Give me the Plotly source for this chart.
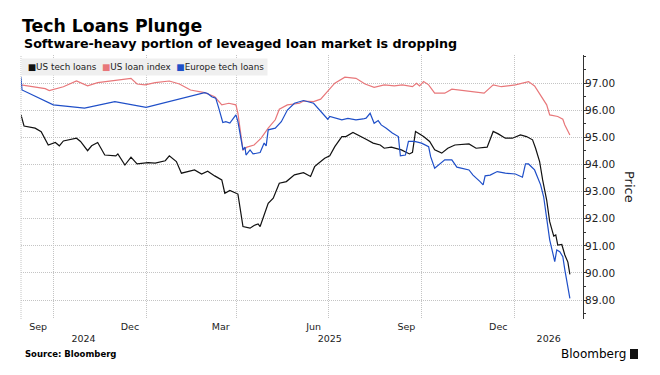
import plotly.graph_objects as go

# ---------------- data ----------------
us_tech_dates = [
    "2024-08-30", "2024-09-02", "2024-09-13", "2024-09-19", "2024-09-26", "2024-10-03",
    "2024-10-07", "2024-10-11", "2024-10-24", "2024-10-28", "2024-11-04", "2024-11-08",
    "2024-11-14", "2024-11-21", "2024-12-02", "2024-12-04", "2024-12-11", "2024-12-17",
    "2024-12-23", "2025-01-03", "2025-01-10", "2025-01-20", "2025-01-24", "2025-01-31",
    "2025-02-05", "2025-02-12", "2025-02-18", "2025-02-25", "2025-03-03", "2025-03-10",
    "2025-03-17", "2025-03-20", "2025-03-25", "2025-04-02", "2025-04-07", "2025-04-14",
    "2025-04-18", "2025-04-22", "2025-04-24", "2025-05-02", "2025-05-07", "2025-05-13",
    "2025-05-20", "2025-05-28", "2025-06-06", "2025-06-13", "2025-06-17", "2025-06-20",
    "2025-06-27", "2025-07-02", "2025-07-07", "2025-07-14", "2025-07-18", "2025-07-25",
    "2025-08-01", "2025-08-07", "2025-08-14", "2025-08-21", "2025-08-25", "2025-09-01",
    "2025-09-11", "2025-09-19", "2025-09-22", "2025-09-25", "2025-10-03", "2025-10-09",
    "2025-10-14", "2025-10-21", "2025-10-27", "2025-11-03", "2025-11-17", "2025-11-24",
    "2025-12-05", "2025-12-11", "2025-12-16", "2025-12-23", "2025-12-30", "2026-01-07",
    "2026-01-13", "2026-01-19", "2026-01-22", "2026-01-26", "2026-01-29", "2026-02-02",
    "2026-02-05", "2026-02-09", "2026-02-11", "2026-02-13", "2026-02-17", "2026-02-20",
    "2026-02-23", "2026-02-25",
]
us_tech = [
    95.83, 95.42, 95.34, 95.21, 94.72, 94.81,
    94.69, 94.87, 94.97, 94.85, 94.51, 94.69,
    94.81, 94.35, 94.32, 94.39, 93.98, 94.27,
    94.02, 94.07, 94.05, 94.14, 94.32, 94.11,
    93.68, 93.74, 93.80, 93.65, 93.75, 93.58,
    93.43, 92.94, 93.04, 92.91, 91.71, 91.65,
    91.75, 91.81, 91.71, 92.57, 92.76, 93.31,
    93.37, 93.62, 93.70, 93.56, 93.92, 94.02,
    94.23, 94.32, 94.66, 95.03, 95.03, 95.18,
    95.03, 94.93, 94.79, 94.72, 94.60, 94.64,
    94.54, 94.39, 94.45, 95.22, 95.03, 94.85,
    94.54, 94.42, 94.60, 94.72, 94.76, 94.60,
    94.64, 95.22, 95.13, 94.97, 94.97, 95.09,
    95.03, 94.91, 94.60, 94.11, 93.43, 92.69,
    91.89, 91.36, 91.40, 91.03, 91.05, 90.66,
    90.40, 89.95,
]

us_index_dates = [
    "2024-08-30", "2024-09-13", "2024-09-23", "2024-09-27", "2024-10-11", "2024-10-24",
    "2024-11-04", "2024-11-14", "2024-12-02", "2024-12-17", "2024-12-23", "2024-12-31",
    "2025-01-10", "2025-01-20", "2025-01-24", "2025-02-03", "2025-02-14", "2025-02-28",
    "2025-03-10", "2025-03-17", "2025-03-24", "2025-03-31", "2025-04-02", "2025-04-04",
    "2025-04-07", "2025-04-11", "2025-04-18", "2025-04-25", "2025-05-02", "2025-05-09",
    "2025-05-13", "2025-05-21", "2025-06-02", "2025-06-06", "2025-06-16", "2025-06-23",
    "2025-06-30", "2025-07-07", "2025-07-17", "2025-07-28", "2025-08-06", "2025-08-15",
    "2025-08-25", "2025-09-04", "2025-09-12", "2025-09-22", "2025-09-26", "2025-09-29",
    "2025-10-03", "2025-10-08", "2025-10-14", "2025-10-24", "2025-10-31", "2025-11-17",
    "2025-12-02", "2025-12-11", "2025-12-19", "2026-01-02", "2026-01-15", "2026-01-21",
    "2026-01-28", "2026-02-02", "2026-02-05", "2026-02-13", "2026-02-18", "2026-02-20",
    "2026-02-25",
]
us_index = [
    96.94, 96.87, 96.80, 96.73, 96.87, 97.08,
    96.90, 97.02, 97.12, 97.18, 96.97, 96.94,
    97.02, 97.06, 97.08, 96.97, 96.75, 96.65,
    96.50, 96.20, 96.26, 96.20, 95.89, 95.34,
    94.54, 94.64, 94.72, 94.97, 95.34, 95.65,
    96.04, 96.20, 96.26, 96.34, 96.32, 96.41,
    96.69, 97.00, 97.22, 97.18, 96.97, 96.85,
    96.94, 96.90, 96.94, 96.87, 97.00, 96.90,
    97.06, 96.94, 96.63, 96.63, 96.78, 96.69,
    96.63, 96.94, 96.87, 96.94, 97.06, 96.90,
    96.50, 96.20, 95.83, 95.77, 95.67, 95.46,
    95.09,
]

eu_tech_dates = [
    "2024-08-30", "2024-08-31", "2024-10-01", "2024-11-01", "2024-12-01", "2025-01-01",
    "2025-02-28", "2025-03-03", "2025-03-07", "2025-03-11", "2025-03-14", "2025-03-18",
    "2025-03-21", "2025-03-25", "2025-03-31", "2025-04-02", "2025-04-07", "2025-04-09",
    "2025-04-10", "2025-04-14", "2025-04-17", "2025-04-24", "2025-04-28", "2025-04-30",
    "2025-05-02", "2025-05-09", "2025-05-15", "2025-05-21", "2025-05-28", "2025-06-06",
    "2025-06-16", "2025-06-23", "2025-06-30", "2025-07-02", "2025-07-14", "2025-07-20",
    "2025-07-28", "2025-08-04", "2025-08-07", "2025-08-11", "2025-08-15", "2025-08-19",
    "2025-08-22", "2025-08-27", "2025-09-02", "2025-09-08", "2025-09-10", "2025-09-15",
    "2025-09-18", "2025-09-24", "2025-10-01", "2025-10-08", "2025-10-10", "2025-10-14",
    "2025-10-20", "2025-10-24", "2025-10-31", "2025-11-05", "2025-11-17", "2025-11-21",
    "2025-11-28", "2025-12-01", "2025-12-03", "2025-12-08", "2025-12-15", "2025-12-23",
    "2026-01-02", "2026-01-09", "2026-01-12", "2026-01-15", "2026-01-21", "2026-01-27",
    "2026-01-30", "2026-02-02", "2026-02-05", "2026-02-10", "2026-02-12", "2026-02-15",
    "2026-02-18", "2026-02-20", "2026-02-25",
]
eu_tech = [
    97.22, 96.75, 96.20, 96.08, 96.32, 96.11,
    96.65, 96.62, 96.50, 96.45, 96.08, 95.55,
    95.58, 95.53, 95.83, 95.58, 94.54, 94.64,
    94.35, 94.54, 94.39, 94.44, 94.79, 94.69,
    95.28, 95.34, 95.58, 96.01, 96.26, 96.36,
    96.26, 95.95, 95.67, 95.77, 95.65, 95.70,
    95.65, 95.68, 95.71, 95.89, 95.52, 95.62,
    95.46, 95.34, 95.16, 95.03, 94.32, 94.35,
    94.85, 94.85, 94.79, 94.66, 94.29, 93.86,
    94.05, 94.17, 94.17, 93.90, 93.80, 93.61,
    93.37, 93.25, 93.58, 93.61, 93.74, 93.68,
    93.65, 93.53, 94.02, 94.02, 93.80, 93.25,
    92.81, 91.95, 91.22, 90.42, 90.85, 90.78,
    90.60, 90.11, 89.06,
]

series_names = ["US tech loans", "US loan index", "Europe tech loans"]
series_colors = ["#111111", "#e8777a", "#1f4fc8"]

# axis ticks
month_tick_dates = ["2024-09-16", "2024-12-16", "2025-03-16", "2025-06-16", "2025-09-16", "2025-12-16"]
month_tick_labels = ["Sep", "Dec", "Mar", "Jun", "Sep", "Dec"]
year_tick_dates = ["2024-10-31", "2025-07-02", "2026-02-04"]
year_tick_labels = ["2024", "2025", "2026"]
grid_dates = ["2024-10-01", "2025-01-01", "2025-04-01", "2025-07-01", "2025-10-01", "2026-01-01"]
y_tick_vals = [89, 90, 91, 92, 93, 94, 95, 96, 97]

FONT = "DejaVu Sans"

# The page body has an 8px margin, so the figure is laid out 8px up/left.
W, H = 652, 367
PL, PR, PT, PB = 13, 575, 47, 311          # plot area in figure pixels
PW, PH = PR - PL, PB - PT


def px(xf):
    return (xf - PL) / PW


def py(yf):
    return (PB - yf) / PH


fig = go.Figure()
for xs, ys, name, color in [
    (us_tech_dates, us_tech, series_names[0], series_colors[0]),
    (us_index_dates, us_index, series_names[1], series_colors[1]),
    (eu_tech_dates, eu_tech, series_names[2], series_colors[2]),
]:
    fig.add_trace(go.Scatter(x=xs, y=ys, mode="lines", name=name,
                             line=dict(color=color, width=1.2), showlegend=False))

legend_text = "&nbsp;" + "&nbsp;&nbsp;".join(
    f'<span style="color:{c}">■</span>{n}' for n, c in zip(series_names, series_colors)
)

GRID = "#c4c4c4"
fig.update_layout(
    width=W, height=H,
    margin=dict(l=PL, r=W - PR, t=PT, b=H - PB),
    paper_bgcolor="white", plot_bgcolor="white",
    font=dict(family=FONT, color="#222"),
    title=dict(text="<b>Tech Loans Plunge</b>", x=14 / W, xanchor="left",
               xref="container", yref="container", y=1 - 17.5 / H, yanchor="middle",
               font=dict(family=FONT, size=17.3, color="#000")),
    xaxis=dict(
        type="date", range=["2024-08-30", "2026-03-10"],
        tickmode="array",
        tickvals=month_tick_dates + year_tick_dates,
        ticktext=month_tick_labels + ["<br>" + t for t in year_tick_labels],
        ticks="", showgrid=False, showline=False, zeroline=False,
        tickfont=dict(size=9.5, color="#222"),
        minor=dict(tickmode="array", tickvals=grid_dates, showgrid=True,
                   gridcolor=GRID, griddash="1px,1px", gridwidth=1, ticks=""),
    ),
    yaxis=dict(
        side="right", range=[88.3, 98.04],
        tickmode="array", tickvals=y_tick_vals,
        ticktext=[f"{v:.2f}" for v in y_tick_vals],
        showgrid=True, gridcolor=GRID, griddash="1px,1px", gridwidth=1,
        showline=True, linecolor="#333", linewidth=1,
        ticks="outside", ticklen=3, tickcolor="#333", ticklabelstandoff=-4,
        minor=dict(tickmode="linear", tick0=88.5, dtick=0.5, ticks="outside",
                   ticklen=2, tickcolor="#333", showgrid=False),
        tickfont=dict(size=10.5, color="#222"), zeroline=False,
    ),
    shapes=[
        dict(type="line", xref="paper", yref="paper", x0=0, x1=0, y0=0, y1=1,
             line=dict(color=GRID, width=1, dash="1px,1px")),
        dict(type="rect", xref="paper", yref="paper",
             x0=px(622), x1=px(630), y0=py(351), y1=py(341),
             fillcolor="#111", line=dict(width=0)),
    ],
    annotations=[
        dict(text="<b>Software-heavy portion of leveaged loan market is dropping</b>",
             xref="paper", yref="paper", x=px(14), y=py(35),
             xanchor="left", yanchor="middle", showarrow=False,
             font=dict(family=FONT, size=12.7, color="#000")),
        dict(text=legend_text, xref="paper", yref="paper", x=0, y=1, yshift=-3,
             xanchor="left", yanchor="top", showarrow=False, align="left",
             bgcolor="#efefef", borderpad=3,
             font=dict(family=FONT, size=8.8, color="#222")),
        dict(text="Price", xref="paper", yref="paper", x=px(622), y=0.5,
             xanchor="center", yanchor="middle", showarrow=False, textangle=90,
             font=dict(family=FONT, size=13, color="#222")),
        dict(text="<b>Source: Bloomberg</b>", xref="paper", yref="paper",
             x=px(15), y=py(346), xanchor="left", yanchor="middle",
             showarrow=False, font=dict(family=FONT, size=8.5, color="#000")),
        dict(text="Bloomberg", xref="paper", yref="paper",
             x=px(620), y=py(346), xanchor="right", yanchor="middle",
             showarrow=False, font=dict(family=FONT, size=12, color="#000")),
    ],
)

fig.write_html("out.html")
